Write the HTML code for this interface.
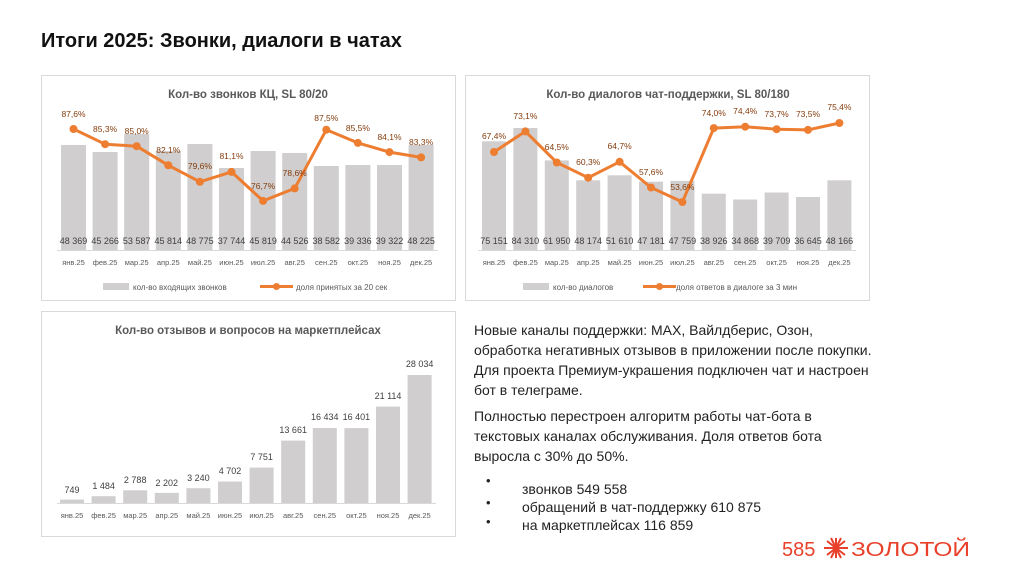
<!DOCTYPE html>
<html><head><meta charset="utf-8"><style>
body{margin:0;width:1024px;height:574px;background:#fff;overflow:hidden;font-family:"Liberation Sans",sans-serif;}
svg{position:absolute;left:0;top:0}
.t{position:absolute;left:474px;top:320px;font-size:14px;line-height:20px;color:#222;white-space:nowrap}
</style></head><body>
<svg width="1024" height="574" font-family="Liberation Sans, sans-serif">
<text x="41" y="47" font-size="20" font-weight="bold" fill="#111">Итоги 2025: Звонки, диалоги в чатах</text>
<rect x="41.5" y="75.5" width="414" height="225" fill="#fff" stroke="#d9d9d9"/>
<rect x="465.5" y="75.5" width="404" height="225" fill="#fff" stroke="#d9d9d9"/>
<rect x="41.5" y="311.5" width="414" height="225" fill="#fff" stroke="#d9d9d9"/>
<!-- chart1 -->
<text x="248" y="98" font-size="11.5" font-weight="bold" fill="#595959" text-anchor="middle">Кол-во звонков КЦ, SL 80/20</text>
<g fill="#d0cece">
<rect x="61" y="145" width="25" height="105"/><rect x="92.6" y="152" width="25" height="98"/><rect x="124.2" y="134" width="25" height="116"/><rect x="155.8" y="151" width="25" height="99"/><rect x="187.4" y="144" width="25" height="106"/><rect x="219" y="168" width="25" height="82"/><rect x="250.6" y="151" width="25" height="99"/><rect x="282.2" y="153" width="25" height="97"/><rect x="313.8" y="166" width="25" height="84"/><rect x="345.4" y="165" width="25" height="85"/><rect x="377" y="165" width="25" height="85"/><rect x="408.6" y="145" width="25" height="105"/>
</g>
<line x1="57" y1="250.5" x2="438" y2="250.5" stroke="#d9d9d9"/>
<g font-size="9" fill="#404040" text-anchor="middle">
<text x="73.5" y="244">48 369</text><text x="105.1" y="244">45 266</text><text x="136.7" y="244">53 587</text><text x="168.3" y="244">45 814</text><text x="199.9" y="244">48 775</text><text x="231.5" y="244">37 744</text><text x="263.1" y="244">45 819</text><text x="294.7" y="244">44 526</text><text x="326.3" y="244">38 582</text><text x="357.9" y="244">39 336</text><text x="389.5" y="244">39 322</text><text x="421.1" y="244">48 225</text>
</g>
<polyline fill="none" stroke="#ed7d31" stroke-width="3" stroke-linejoin="round" points="73.5,129 105.1,144.2 136.7,146.2 168.3,165.3 199.9,181.8 231.5,171.9 263.1,200.9 294.7,188.4 326.3,129.7 357.9,142.9 389.5,152.1 421.1,157.4"/>
<g fill="#ed7d31"><circle cx="73.5" cy="129" r="4"/><circle cx="105.1" cy="144.2" r="4"/><circle cx="136.7" cy="146.2" r="4"/><circle cx="168.3" cy="165.3" r="4"/><circle cx="199.9" cy="181.8" r="4"/><circle cx="231.5" cy="171.9" r="4"/><circle cx="263.1" cy="200.9" r="4"/><circle cx="294.7" cy="188.4" r="4"/><circle cx="326.3" cy="129.7" r="4"/><circle cx="357.9" cy="142.9" r="4"/><circle cx="389.5" cy="152.1" r="4"/><circle cx="421.1" cy="157.4" r="4"/></g>
<g font-size="8.5" fill="#843c0c" text-anchor="middle">
<text x="73.5" y="117">87,6%</text><text x="105.1" y="132">85,3%</text><text x="136.7" y="134">85,0%</text><text x="168.3" y="153">82,1%</text><text x="199.9" y="169">79,6%</text><text x="231.5" y="159">81,1%</text><text x="263.1" y="189">76,7%</text><text x="294.7" y="176">78,6%</text><text x="326.3" y="121">87,5%</text><text x="357.9" y="131">85,5%</text><text x="389.5" y="140">84,1%</text><text x="421.1" y="145">83,3%</text>
</g>
<g font-size="7.5" fill="#595959" text-anchor="middle">
<text x="73.5" y="265">янв.25</text><text x="105.1" y="265">фев.25</text><text x="136.7" y="265">мар.25</text><text x="168.3" y="265">апр.25</text><text x="199.9" y="265">май.25</text><text x="231.5" y="265">июн.25</text><text x="263.1" y="265">июл.25</text><text x="294.7" y="265">авг.25</text><text x="326.3" y="265">сен.25</text><text x="357.9" y="265">окт.25</text><text x="389.5" y="265">ноя.25</text><text x="421.1" y="265">дек.25</text>
</g>
<rect x="103" y="283" width="26" height="7" fill="#d0cece"/>
<text x="133" y="290" font-size="8" fill="#595959">кол-во входящих звонков</text>
<line x1="260" y1="286.5" x2="293" y2="286.5" stroke="#ed7d31" stroke-width="3"/><circle cx="276.5" cy="286.5" r="3.5" fill="#ed7d31"/>
<text x="296" y="290" font-size="8" fill="#595959">доля принятых за 20 сек</text>
<!-- chart2 -->
<text x="668" y="98" font-size="11.5" font-weight="bold" fill="#595959" text-anchor="middle">Кол-во диалогов чат-поддержки, SL 80/180</text>
<g fill="#d0cece">
<rect x="482" y="141.3" width="24" height="108.7"/><rect x="513.4" y="128" width="24" height="122"/><rect x="544.8" y="160.4" width="24" height="89.6"/><rect x="576.2" y="180.3" width="24" height="69.7"/><rect x="607.6" y="175.3" width="24" height="74.7"/><rect x="639" y="181.7" width="24" height="68.3"/><rect x="670.4" y="180.9" width="24" height="69.1"/><rect x="701.8" y="193.7" width="24" height="56.3"/><rect x="733.2" y="199.5" width="24" height="50.5"/><rect x="764.6" y="192.5" width="24" height="57.5"/><rect x="796" y="197" width="24" height="53"/><rect x="827.4" y="180.3" width="24" height="69.7"/>
</g>
<line x1="478" y1="250.5" x2="856" y2="250.5" stroke="#d9d9d9"/>
<g font-size="9" fill="#404040" text-anchor="middle">
<text x="494" y="244">75 151</text><text x="525.4" y="244">84 310</text><text x="556.8" y="244">61 950</text><text x="588.2" y="244">48 174</text><text x="619.6" y="244">51 610</text><text x="651" y="244">47 181</text><text x="682.4" y="244">47 759</text><text x="713.8" y="244">38 926</text><text x="745.2" y="244">34 868</text><text x="776.6" y="244">39 709</text><text x="808" y="244">36 645</text><text x="839.4" y="244">48 166</text>
</g>
<polyline fill="none" stroke="#ed7d31" stroke-width="3" stroke-linejoin="round" points="494,152 525.4,131.4 556.8,162.5 588.2,177.7 619.6,161.8 651,187.5 682.4,202 713.8,128.1 745.2,126.7 776.6,129.2 808,129.9 839.4,123"/>
<g fill="#ed7d31"><circle cx="494" cy="152" r="4"/><circle cx="525.4" cy="131.4" r="4"/><circle cx="556.8" cy="162.5" r="4"/><circle cx="588.2" cy="177.7" r="4"/><circle cx="619.6" cy="161.8" r="4"/><circle cx="651" cy="187.5" r="4"/><circle cx="682.4" cy="202" r="4"/><circle cx="713.8" cy="128.1" r="4"/><circle cx="745.2" cy="126.7" r="4"/><circle cx="776.6" cy="129.2" r="4"/><circle cx="808" cy="129.9" r="4"/><circle cx="839.4" cy="123" r="4"/></g>
<g font-size="8.5" fill="#843c0c" text-anchor="middle">
<text x="494" y="139">67,4%</text><text x="525.4" y="119">73,1%</text><text x="556.8" y="150">64,5%</text><text x="588.2" y="165">60,3%</text><text x="619.6" y="149">64,7%</text><text x="651" y="175">57,6%</text><text x="682.4" y="190">53,6%</text><text x="713.8" y="116">74,0%</text><text x="745.2" y="114">74,4%</text><text x="776.6" y="117">73,7%</text><text x="808" y="117">73,5%</text><text x="839.4" y="110">75,4%</text>
</g>
<g font-size="7.5" fill="#595959" text-anchor="middle">
<text x="494" y="265">янв.25</text><text x="525.4" y="265">фев.25</text><text x="556.8" y="265">мар.25</text><text x="588.2" y="265">апр.25</text><text x="619.6" y="265">май.25</text><text x="651" y="265">июн.25</text><text x="682.4" y="265">июл.25</text><text x="713.8" y="265">авг.25</text><text x="745.2" y="265">сен.25</text><text x="776.6" y="265">окт.25</text><text x="808" y="265">ноя.25</text><text x="839.4" y="265">дек.25</text>
</g>
<rect x="523" y="283" width="26" height="7" fill="#d0cece"/>
<text x="553" y="290" font-size="8" fill="#595959">кол-во диалогов</text>
<line x1="643" y1="286.5" x2="676" y2="286.5" stroke="#ed7d31" stroke-width="3"/><circle cx="659.5" cy="286.5" r="3.5" fill="#ed7d31"/>
<text x="676" y="290" font-size="8" fill="#595959">доля ответов в диалоге за 3 мин</text>
<!-- chart3 -->
<text x="248" y="334" font-size="11.5" font-weight="bold" fill="#595959" text-anchor="middle">Кол-во отзывов и вопросов на маркетплейсах</text>
<g fill="#d0cece">
<rect x="60" y="499.6" width="24" height="3.4"/><rect x="91.6" y="496.2" width="24" height="6.8"/><rect x="123.2" y="490.3" width="24" height="12.7"/><rect x="154.8" y="492.9" width="24" height="10.1"/><rect x="186.4" y="488.2" width="24" height="14.8"/><rect x="218" y="481.5" width="24" height="21.5"/><rect x="249.6" y="467.6" width="24" height="35.4"/><rect x="281.2" y="440.6" width="24" height="62.4"/><rect x="312.8" y="428" width="24" height="75"/><rect x="344.4" y="428.1" width="24" height="74.9"/><rect x="376" y="406.6" width="24" height="96.4"/><rect x="407.6" y="375" width="24" height="128"/>
</g>
<line x1="57" y1="503.5" x2="436" y2="503.5" stroke="#d9d9d9"/>
<g font-size="9" fill="#404040" text-anchor="middle">
<text x="72" y="493">749</text><text x="103.6" y="489">1 484</text><text x="135.2" y="483">2 788</text><text x="166.8" y="486">2 202</text><text x="198.4" y="481">3 240</text><text x="230" y="474">4 702</text><text x="261.6" y="460">7 751</text><text x="293.2" y="433">13 661</text><text x="324.8" y="420">16 434</text><text x="356.4" y="420">16 401</text><text x="388" y="399">21 114</text><text x="419.6" y="367">28 034</text>
</g>
<g font-size="7.5" fill="#595959" text-anchor="middle">
<text x="72" y="518">янв.25</text><text x="103.6" y="518">фев.25</text><text x="135.2" y="518">мар.25</text><text x="166.8" y="518">апр.25</text><text x="198.4" y="518">май.25</text><text x="230" y="518">июн.25</text><text x="261.6" y="518">июл.25</text><text x="293.2" y="518">авг.25</text><text x="324.8" y="518">сен.25</text><text x="356.4" y="518">окт.25</text><text x="388" y="518">ноя.25</text><text x="419.6" y="518">дек.25</text>
</g>
<!-- bullets -->
<g font-size="13" fill="#222">
<text x="486" y="485">•</text><text x="486" y="507">•</text><text x="486" y="526">•</text>
</g>
<!-- logo -->
<text x="782" y="556" font-size="20" fill="#e8402a">585</text>
<g stroke="#e8402a" stroke-width="2" transform="translate(836,548)">
<line x1="-12" y1="0" x2="12" y2="0"/><line x1="0" y1="-10" x2="0" y2="10"/><line x1="-9" y1="-7" x2="9" y2="7"/><line x1="-9" y1="7" x2="9" y2="-7"/><line x1="-5" y1="-10" x2="5" y2="10"/><line x1="-5" y1="10" x2="5" y2="-10"/>
</g>
<text x="851" y="556" font-size="20" fill="#e8402a" textLength="119" lengthAdjust="spacingAndGlyphs">ЗОЛОТОЙ</text>
</svg>
<div class="t">
<div>Новые каналы поддержки: MAX, Вайлдберис, Озон,<br>обработка негативных отзывов в приложении после покупки.<br>Для проекта Премиум-украшения подключен чат и настроен<br>бот в телеграме.</div>
<div style="margin-top:6px">Полностью перестроен алгоритм работы чат-бота в<br>текстовых каналах обслуживания. Доля ответов бота<br>выросла с 30% до 50%.</div>
<div style="margin-top:14px;padding-left:48px;line-height:18px">
<div>звонков 549 558</div>
<div>обращений в чат-поддержку 610 875</div>
<div>на маркетплейсах 116 859</div>
</div>
</div>
</body></html>
